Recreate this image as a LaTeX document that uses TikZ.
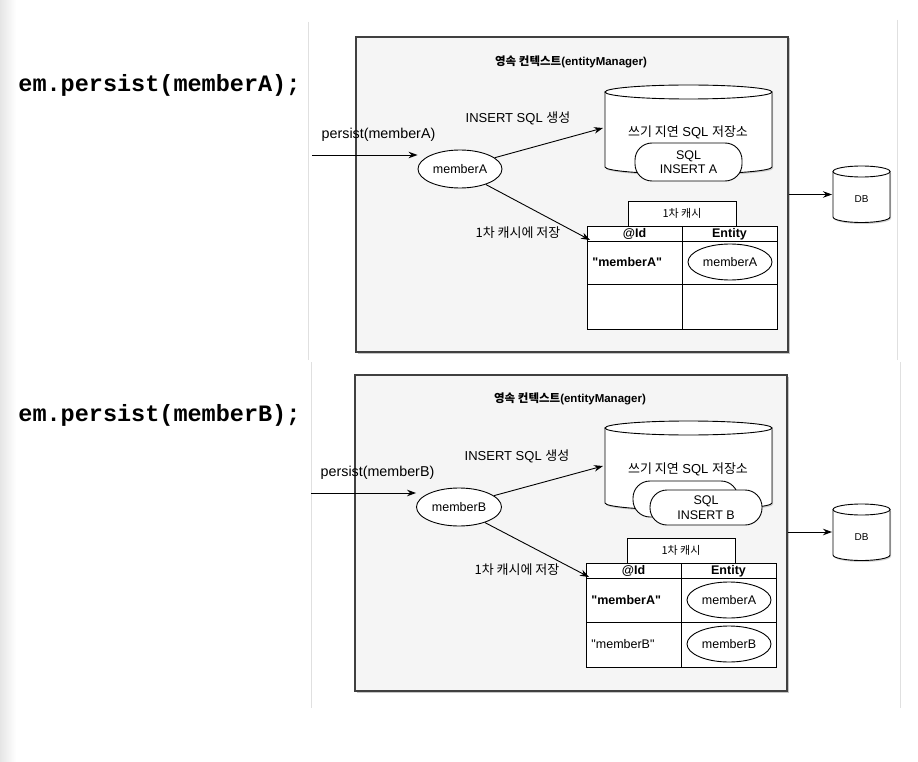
\documentclass[tikz,border=0pt]{standalone}
\usepackage{fontspec}
\setmainfont{Liberation Sans}
\newfontfamily\kor{Noto Sans CJK KR}
\newfontfamily\rawsans{Liberation Sans}[Ligatures=TeXOff]
\newfontfamily\codefont{Liberation Mono}
\usetikzlibrary{shapes.geometric,arrows.meta,shadows,calc}
\newcommand\hg[1]{{\kor #1}}
\newcommand\cylshape[5]{%
  \filldraw[fill=white,drop shadow={shadow xshift=1pt,shadow yshift=-1.5pt,fill=black!35}] (#1,#3) -- (#1,#4) arc[start angle=180,end angle=0,x radius={(#2-#1)/2},y radius=#5] -- (#2,#3) -- cycle;
  \draw[fill=white] ({(#1+#2)/2},#3) ellipse[x radius={(#2-#1)/2},y radius=#5];}
\begin{document}
\begin{tikzpicture}[x=1pt,y=-1pt,line width=0.9pt,
  >={Stealth[length=9pt,width=6.5pt]},
  panel/.style={draw=black!75,fill=black!4,line width=1.1pt,inner sep=0pt,
    drop shadow={shadow xshift=1.5pt,shadow yshift=-1.5pt,fill=black!45},
    minimum width=432pt,minimum height=315pt},
  ttl/.style={inner sep=0pt,font=\bfseries\fontsize{11.5}{13}\selectfont},
  lbl/.style={inner sep=0pt,font=\fontsize{13}{15}\selectfont},
  plbl/.style={inner sep=0pt,font=\fontsize{14.3}{16}\selectfont},
  obj/.style={ellipse,draw,fill=white,inner sep=0pt,font=\fontsize{12.5}{14}\selectfont},
  stad/.style={draw,fill=white,rounded corners=17pt,align=center,inner sep=0pt,
    font=\fontsize{12.5}{14.5}\selectfont},
  cell/.style={draw,fill=white,inner sep=0pt,minimum width=95pt},
  hcell/.style={cell,minimum height=15pt,text height=9pt,text depth=2pt,font=\bfseries\fontsize{12.5}{14}\selectfont},
  tabbox/.style={draw,fill=white,inner sep=0pt,minimum width=108pt,minimum height=25pt,font=\fontsize{11}{13}\selectfont},
  idtxt/.style={inner sep=0pt,anchor=west,font=\rawsans\fontsize{12.5}{14}\selectfont},
  dbtxt/.style={inner sep=0pt,font=\fontsize{10}{12}\selectfont},
  code/.style={inner sep=0pt,anchor=west,font=\codefont\bfseries\fontsize{23.5}{26}\selectfont},
  guide/.style={draw=black!12,line width=1pt}]
\useasboundingbox (0,0) rectangle (918,762);
\fill[white] (0,0) rectangle (918,762);
\shade[left color=black!10,right color=white] (0,0) rectangle (16,762);
\draw[guide] (308,22) -- (308,360);
\draw[guide] (311,362) -- (311,708);
\draw[guide] (897,20) -- (897,360);
\draw[guide] (900,362) -- (900,708);

% ---------- code labels
\node[code] (codeA) at (18,85) {em.persist(memberA);};
\node[code] (codeB) at (18,415) {em.persist(memberB);};

% ================= TOP PANEL
\node[panel] (pA) at (572,194.5) {};
\node[ttl] (tA) at (571,62) {\hg{영속 컨텍스트}(entityManager)};
\cylshape{605}{772}{92}{167}{7}
\node[lbl] (qA) at (688,132) {\hg{쓰기 지연} SQL \hg{저장소}};
\node[stad,minimum width=107pt,minimum height=38pt] (sA) at (688.5,162) {SQL\\INSERT A};
\node[lbl] (iA) at (518,118) {INSERT SQL \hg{생성}};
\node[plbl] (plA) at (378.5,135) {persist(memberA)};
\coordinate (inA) at (312,155);
\node[obj,minimum width=84pt,minimum height=38pt] (mA) at (460,169) {memberA};
\draw[->] (inA) -- (inA -| mA.west);
\coordinate (cA) at (603,128);
\draw[->] (mA.18) -- (cA);
% cache table
\node[tabbox] (tbA) at (682,213.5) {\hg{1차 캐시}};
\node[hcell] (hidA) at (634.5,233.5) {@Id};
\node[hcell] (henA) at (729.5,233.5) {Entity};
\node[cell,minimum height=43pt] (r1aA) at (634.5,262.5) {};
\node[cell,minimum height=43pt] (r1bA) at (729.5,262.5) {};
\node[cell,minimum height=45pt] (r2aA) at (634.5,306.5) {};
\node[cell,minimum height=45pt] (r2bA) at (729.5,306.5) {};
\node[idtxt,font=\rawsans\bfseries\fontsize{12.5}{14}\selectfont] (kA) at (592,262) {"memberA"};
\node[obj,minimum width=84pt,minimum height=36pt] (eA) at (730,262) {memberA};
\node[lbl] (svA) at (518,233) {\hg{1차 캐시에 저장}};
\coordinate (tcA) at (590,240);
\draw[->] (mA.-31) -- (tcA);
% DB
\cylshape{833}{890}{171.5}{217}{5.5}
\node[dbtxt] (dbtA) at (861.5,199) {DB};
\coordinate (dbA) at (832,194.5);
\draw[->] (pA.east) -- (dbA);

% ================= BOTTOM PANEL
\node[panel,minimum height=316pt] (pB) at (571,533) {};
\node[ttl] (tB) at (570,399) {\hg{영속 컨텍스트}(entityManager)};
\cylshape{605}{772}{428}{503}{7}
\node[lbl] (qB) at (688,469) {\hg{쓰기 지연} SQL \hg{저장소}};
\node[stad,minimum width=105pt,minimum height=36pt] (sB0) at (685.5,499) {};
\node[stad,minimum width=112pt,minimum height=35pt] (sB) at (706,507.5) {SQL\\INSERT B};
\node[lbl] (iB) at (517,456) {INSERT SQL \hg{생성}};
\node[plbl] (plB) at (377.5,473) {persist(memberB)};
\coordinate (inB) at (311,493);
\node[obj,minimum width=85pt,minimum height=38pt] (mB) at (459,507) {memberB};
\draw[->] (inB) -- (inB -| mB.west);
\coordinate (cB) at (603,466);
\draw[->] (mB.18) -- (cB);
% cache table
\node[tabbox] (tbB) at (681,550.5) {\hg{1차 캐시}};
\node[hcell] (hidB) at (633.5,570.5) {@Id};
\node[hcell] (henB) at (728.5,570.5) {Entity};
\node[cell,minimum height=44pt] (r1aB) at (633.5,600) {};
\node[cell,minimum height=44pt] (r1bB) at (728.5,600) {};
\node[cell,minimum height=45pt] (r2aB) at (633.5,644.5) {};
\node[cell,minimum height=45pt] (r2bB) at (728.5,644.5) {};
\node[idtxt,font=\rawsans\bfseries\fontsize{12.5}{14}\selectfont] (kB1) at (591,600) {"memberA"};
\node[idtxt] (kB2) at (591,644) {"memberB"};
\node[obj,minimum width=84pt,minimum height=36pt] (eB1) at (729,600) {memberA};
\node[obj,minimum width=84pt,minimum height=36pt] (eB2) at (729,644) {memberB};
\node[lbl] (svB) at (517,570) {\hg{1차 캐시에 저장}};
\coordinate (tcB) at (589,577);
\draw[->] (mB.-31) -- (tcB);
% DB
\cylshape{833}{890}{509.5}{555}{5.5}
\node[dbtxt] (dbtB) at (861.5,537) {DB};
\coordinate (dbB) at (832,532);
\draw[->] (pB.east |- dbB) -- (dbB);
\end{tikzpicture}
\end{document}
